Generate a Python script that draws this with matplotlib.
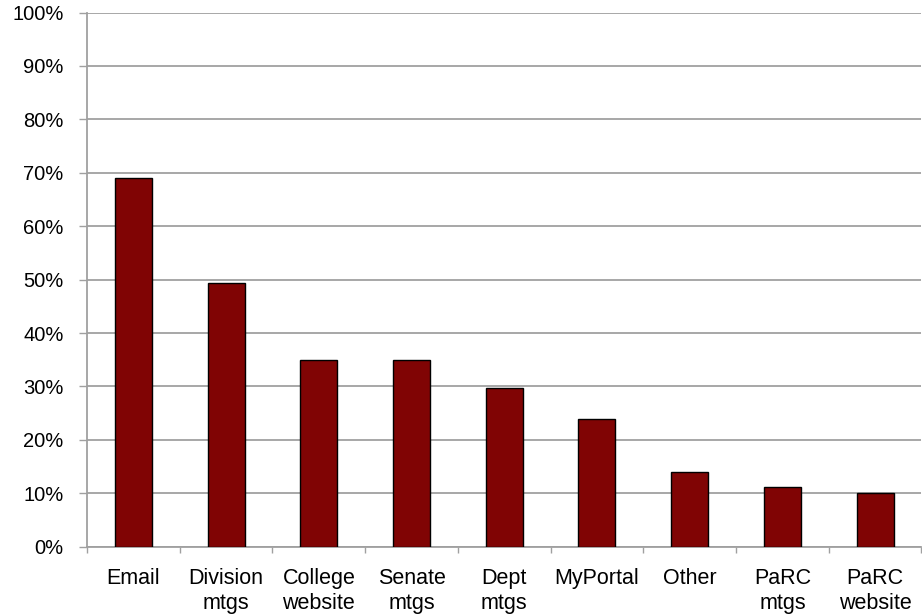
import numpy as np
import matplotlib
matplotlib.use('Agg')
import matplotlib.pyplot as plt
import matplotlib.ticker as ticker

plt.rcParams['font.family'] = ['Liberation Sans', 'DejaVu Sans']

categories = ['Email', 'Division\nmtgs', 'College\nwebsite', 'Senate\nmtgs', 'Dept\nmtgs',
              'MyPortal', 'Other', 'PaRC\nmtgs', 'PaRC\nwebsite']
values = [69.1, 49.4, 35.0, 35.0, 29.7, 24.0, 13.9, 11.1, 10.0]
yticks = list(range(0, 101, 10))

fig = plt.figure(figsize=(9.22, 6.14), dpi=100)
ax = fig.add_axes([0.0944, 0.1096, 0.905, 0.870])

x = np.arange(len(categories))
ax.bar(x, values, width=0.40, color='#800404', edgecolor='black', linewidth=1.0, zorder=3)

ax.set_xlim(-0.5, len(categories) - 0.5)
ax.set_ylim(0, 100)
ax.set_yticks(yticks)
ax.yaxis.set_major_formatter(ticker.FuncFormatter(lambda v, p: f'{int(v)}%'))
ax.yaxis.grid(True, color='#a0a0a0', linewidth=1.3, zorder=0)

# ticks between categories on x
ax.set_xticks(np.arange(-0.5, len(categories), 1.0))
ax.set_xticklabels([])
ax.set_xticks(x, minor=True)
ax.set_xticklabels(categories, minor=True, fontsize=15.5, linespacing=1.25)
ax.tick_params(axis='x', which='minor', length=0, pad=15.5)
ax.tick_params(axis='x', which='major', length=4.5, color='#a0a0a0', width=1)
ax.tick_params(axis='y', length=6, color='#a0a0a0', width=1, labelsize=14.5, pad=11)

for s in ['top', 'right']:
    ax.spines[s].set_visible(False)
for s in ['left', 'bottom']:
    ax.spines[s].set_color('#a0a0a0')
    ax.spines[s].set_linewidth(1.3)

fig.savefig('out.png', dpi=100)
